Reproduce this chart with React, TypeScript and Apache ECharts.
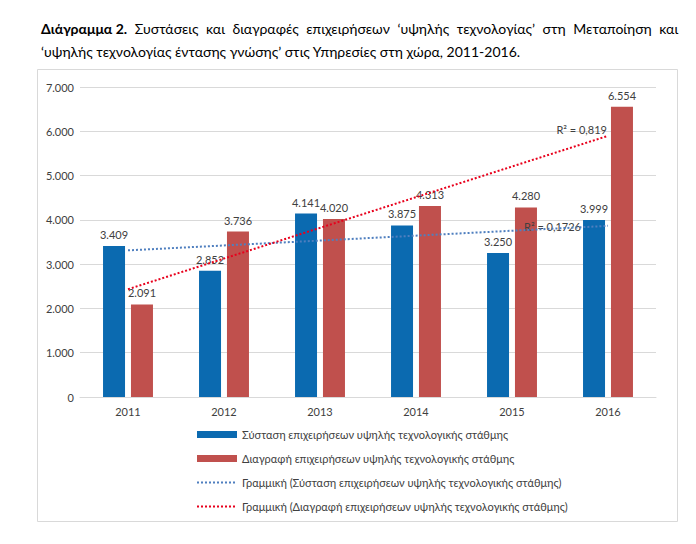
import React, { useEffect, useRef } from "react";
import * as echarts from "echarts";

const years = ["2011", "2012", "2013", "2014", "2015", "2016"];
const founded = [3409, 2852, 4141, 3875, 3250, 3999];
const deleted = [2091, 3736, 4020, 4313, 4280, 6554];
// trend line end points
const trendFounded = [3311, null, null, null, null, 3865];
const trendDeleted = [2434, null, null, null, null, 5897];
const r2Founded = "R² = 0,1726";
const r2Deleted = "R² = 0,819";
const yTicks = { min: 0, max: 7000, interval: 1000 };

const titleLine1Words = ["Συστάσεις", "και", "διαγραφές", "επιχειρήσεων", "‘υψηλής", "τεχνολογίας’", "στη", "Μεταποίηση", "και"];
const titleBold = "Διάγραμμα 2.";
const titleLine2 = "‘υψηλής τεχνολογίας έντασης γνώσης’ στις Υπηρεσίες στη χώρα, 2011-2016.";

const nameFounded = "Σύσταση επιχειρήσεων υψηλής τεχνολογικής στάθμης";
const nameDeleted = "Διαγραφή επιχειρήσεων υψηλής τεχνολογικής στάθμης";
const nameTrendF = "Γραμμική (Σύσταση επιχειρήσεων υψηλής τεχνολογικής στάθμης)";
const nameTrendD = "Γραμμική (Διαγραφή επιχειρήσεων υψηλής τεχνολογικής στάθμης)";

const FONT = "Lato, 'Liberation Sans', sans-serif";
const fmt = (v: number) => String(v).replace(/\B(?=(\d{3})+(?!\d))/g, ".");

export default function App() {
  const ref = useRef<HTMLDivElement>(null);
  useEffect(() => {
    document.body.style.margin = "0";
    const chart = echarts.init(ref.current!, undefined, { renderer: "svg" });
    const r2Mark = (arr: (number | null)[], text: string, offset: number[]) => ({
      silent: true,
      symbol: "circle",
      symbolSize: 0,
      data: [
        {
          coord: [years.length - 1, arr[arr.length - 1]],
          label: {
            show: true,
            formatter: text,
            position: "left",
            offset,
            color: "#404040",
            fontSize: 11,
            fontFamily: FONT,
          },
        },
      ],
    });
    const line1 =
      "{b|" + titleBold + "}{s| }" + titleLine1Words.join("{s| }");
    const hiddenSymbol = { color: "rgba(0,0,0,0)", borderWidth: 0, opacity: 0 };
    chart.setOption({
      animation: false,
      textStyle: { fontFamily: FONT },
      title: {
        left: 36,
        top: 12,
        text: line1 + "\n" + titleLine2,
        textStyle: {
          fontSize: 14,
          fontWeight: "normal",
          color: "#000",
          fontFamily: FONT,
          lineHeight: 23,
          rich: {
            b: { fontWeight: "bold", fontSize: 14, fontFamily: FONT, color: "#000", lineHeight: 23 },
            s: { width: 7.6, fontSize: 14, lineHeight: 23 },
          },
        },
      },
      graphic: [
        {
          type: "rect",
          shape: { x: 37.5, y: 69.5, width: 640, height: 452 },
          style: { fill: "none", stroke: "#d9d9d9", lineWidth: 1 },
          silent: true,
          z: -1,
        },
      ],
      grid: { left: 80, right: 40, top: 87, bottom: 147 },
      legend: {
        orient: "vertical",
        left: 191,
        top: 424,
        itemWidth: 40,
        itemHeight: 7,
        itemGap: 13,
        textStyle: { fontSize: 11, color: "#404040", fontFamily: FONT },
        data: [
          { name: nameFounded, icon: "rect" },
          { name: nameDeleted, icon: "rect" },
          { name: nameTrendF, itemStyle: hiddenSymbol },
          { name: nameTrendD, itemStyle: hiddenSymbol },
        ],
      },
      xAxis: {
        type: "category",
        data: years,
        axisLine: { lineStyle: { color: "#d9d9d9" } },
        axisTick: { show: false },
        axisLabel: { color: "#404040", fontSize: 11, margin: 9 },
      },
      yAxis: {
        type: "value",
        ...yTicks,
        axisLabel: { color: "#404040", fontSize: 11, formatter: (v: number) => fmt(v), margin: 6 },
        splitLine: { lineStyle: { color: "#d9d9d9" } },
        axisLine: { show: false },
        axisTick: { show: false },
      },
      series: [
        {
          name: nameFounded,
          type: "bar",
          data: founded,
          barWidth: 22,
          barGap: "27%",
          itemStyle: { color: "#0B6AB0" },
          label: {
            show: true,
            position: "top",
            distance: 6,
            color: "#404040",
            fontSize: 11,
            formatter: (p: any) => fmt(p.value),
          },
        },
        {
          name: nameDeleted,
          type: "bar",
          data: deleted,
          barWidth: 22,
          itemStyle: { color: "#C0504D" },
          label: {
            show: true,
            position: "top",
            distance: 6,
            color: "#404040",
            fontSize: 11,
            formatter: (p: any) => fmt(p.value),
          },
        },
        {
          name: nameTrendF,
          type: "line",
          data: trendFounded,
          connectNulls: true,
          symbol: "none",
          z: 5,
          itemStyle: { color: "#4F7FBF" },
          lineStyle: { color: "#4F7FBF", width: 2, type: [2, 2] },
          markPoint: r2Mark(trendFounded, r2Founded, [-22, 1]),
        },
        {
          name: nameTrendD,
          type: "line",
          data: trendDeleted,
          connectNulls: true,
          symbol: "none",
          z: 5,
          itemStyle: { color: "#E8001C" },
          lineStyle: { color: "#E8001C", width: 2, type: [2, 2] },
          markPoint: r2Mark(trendDeleted, r2Deleted, [4, -6]),
        },
      ],
    });
    return () => chart.dispose();
  }, []);
  return <div ref={ref} style={{ width: 696, height: 544 }} />;
}
